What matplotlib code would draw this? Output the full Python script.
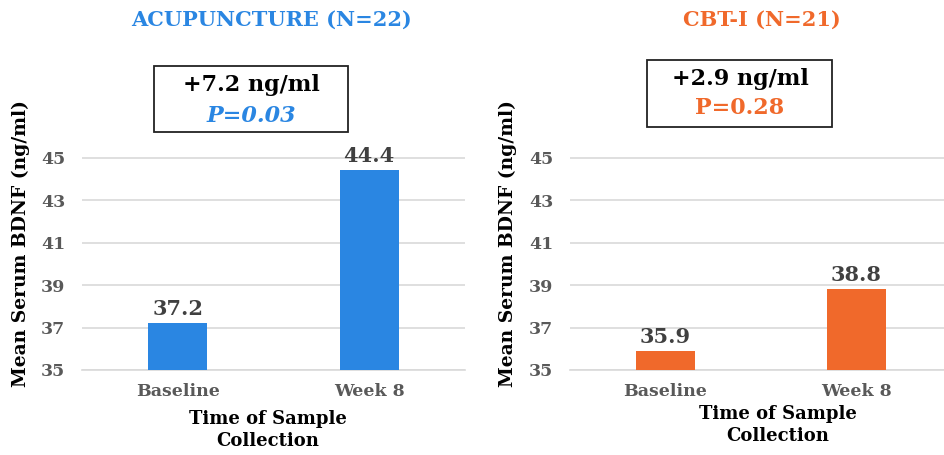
import matplotlib
matplotlib.use("Agg")
import matplotlib.pyplot as plt
from matplotlib.patches import Rectangle

categories = ["Baseline", "Week 8"]
acu_values = [37.2, 44.4]
cbt_values = [35.9, 38.8]
yticks = [35, 37, 39, 41, 43, 45]
acu_title = "ACUPUNCTURE (N=22)"
cbt_title = "CBT-I (N=21)"
acu_change = "+7.2 ng/ml"
acu_p = "P=0.03"
cbt_change = "+2.9 ng/ml"
cbt_p = "P=0.28"

BLUE = "#2A86E2"
ORANGE = "#F0692B"
GRAY = "#595959"
GRID = "#d9d9d9"
FONT = "DejaVu Serif"

W, H = 945, 455
fig = plt.figure(figsize=(W / 100, H / 100), dpi=100)
plt.rcParams["font.family"] = FONT


def px_axes(x0, x1, y_top, y_bot):
    return fig.add_axes([x0 / W, 1 - y_bot / H, (x1 - x0) / W, (y_bot - y_top) / H])


def panel(ax, values, color):
    x = list(range(len(categories)))
    ax.bar(x, values, width=0.31, color=color, zorder=3)
    ax.set_xlim(-0.5, 1.5)
    ax.set_ylim(35, 45.3)
    ax.set_yticks(yticks)
    ax.set_xticks(x)
    ax.set_xticklabels(categories)
    ax.yaxis.grid(True, color=GRID, linewidth=1.2, zorder=0)
    for s in ["top", "right", "left"]:
        ax.spines[s].set_visible(False)
    ax.spines["bottom"].set_color(GRID)
    ax.spines["bottom"].set_linewidth(1.2)
    ax.tick_params(axis="both", length=0, labelsize=12.5, labelcolor=GRAY)
    ax.tick_params(axis="x", pad=9)
    ax.tick_params(axis="y", pad=12)
    for lab in ax.get_xticklabels() + ax.get_yticklabels():
        lab.set_fontweight("bold")
    for xi, v in zip(x, values):
        ax.annotate(f"{v:.1f}", (xi, v), xytext=(0, 3), textcoords="offset points",
                    ha="center", va="bottom", fontsize=15, fontweight="bold", color="#404040")


# Left panel
ax1 = px_axes(82, 465, 157.7 - 0.3 * 21.2, 370)
panel(ax1, acu_values, BLUE)
# Right panel
ax2 = px_axes(570, 952, 157.7 - 0.3 * 21.2, 370)
panel(ax2, cbt_values, ORANGE)

# Titles
fig.text(272 / W, 1 - 20 / H, acu_title, ha="center", va="center", fontsize=15,
         fontweight="bold", color=BLUE)
fig.text(762 / W, 1 - 20 / H, cbt_title, ha="center", va="center", fontsize=15,
         fontweight="bold", color=ORANGE)

# Y labels
for xc in (21, 508):
    fig.text(xc / W, 1 - 244 / H, "Mean Serum BDNF (ng/ml)", ha="center", va="center",
             rotation=90, fontsize=13.5, fontweight="bold", color="black")

# X labels
fig.text(268 / W, 1 - 430 / H, "Time of Sample\nCollection", ha="center", va="center",
         fontsize=13, fontweight="bold", color="black", linespacing=1.3)
fig.text(778 / W, 1 - 425 / H, "Time of Sample\nCollection", ha="center", va="center",
         fontsize=13, fontweight="bold", color="black", linespacing=1.3)

# Boxes
fig.patches.append(Rectangle((154 / W, 1 - 132 / H), (348 - 154) / W, (132 - 66) / H,
                             transform=fig.transFigure, fill=False, edgecolor="#222222",
                             linewidth=1.3))
fig.patches.append(Rectangle((647 / W, 1 - 127 / H), (832 - 647) / W, (127 - 60) / H,
                             transform=fig.transFigure, fill=False, edgecolor="#222222",
                             linewidth=1.3))
fig.text(251 / W, 1 - 85 / H, acu_change, ha="center", va="center", fontsize=16,
         fontweight="bold", color="black")
fig.text(251 / W, 1 - 116 / H, acu_p, ha="center", va="center", fontsize=16,
         fontweight="bold", style="italic", color=BLUE)
fig.text(740 / W, 1 - 79 / H, cbt_change, ha="center", va="center", fontsize=16,
         fontweight="bold", color="black")
fig.text(740 / W, 1 - 108 / H, cbt_p, ha="center", va="center", fontsize=16,
         fontweight="bold", color=ORANGE)

fig.savefig("out.png", dpi=100)
